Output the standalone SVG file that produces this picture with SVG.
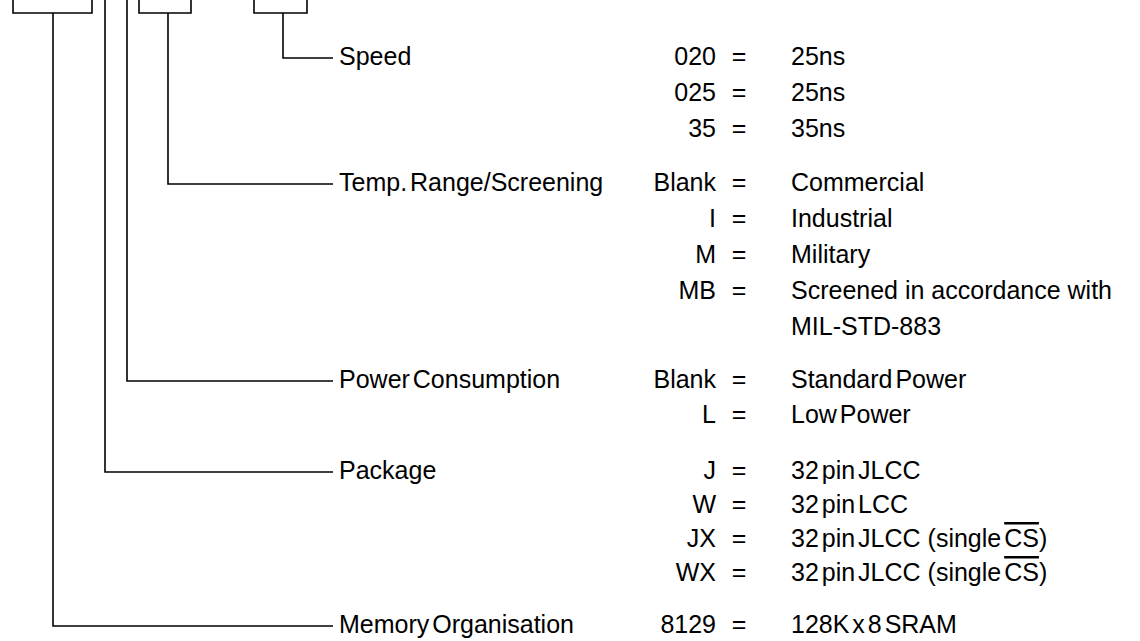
<svg xmlns="http://www.w3.org/2000/svg" width="1140" height="641" viewBox="0 0 1140 641">
<style>
text{font-family:"Liberation Sans",Arial,sans-serif;font-size:25px;fill:#000;word-spacing:-4px}
.c{text-anchor:end}
.e{text-anchor:middle}
.w{word-spacing:0px}
.ln{fill:none;stroke:#000;stroke-width:1.6}
</style>
<rect width="1140" height="641" fill="#fff"/>
<g id="connectors" class="ln">
<path d="M13,0 V13 H92 V0 M53,13 V626 H333"/>
<path d="M105,0 V472 H333"/>
<path d="M127,0 V381 H333"/>
<path d="M139,0 V13 H191 V0 M168,13 V184 H333"/>
<path d="M254,0 V13 H307 V0 M283,13 V58 H333"/>
</g>
<g id="speed">
<text x="339" y="65">Speed</text>
<text class="c" x="716" y="65">020</text><text class="e" x="739" y="65">=</text><text x="791" y="65">25ns</text>
<text class="c" x="716" y="101">025</text><text class="e" x="739" y="101">=</text><text x="791" y="101">25ns</text>
<text class="c" x="716" y="137">35</text><text class="e" x="739" y="137">=</text><text x="791" y="137">35ns</text>
</g>
<g id="temp">
<text x="339" y="191">Temp. Range/Screening</text>
<text class="c" x="716" y="191">Blank</text><text class="e" x="739" y="191">=</text><text x="791" y="191">Commercial</text>
<text class="c" x="716" y="227">I</text><text class="e" x="739" y="227">=</text><text x="791" y="227">Industrial</text>
<text class="c" x="716" y="263">M</text><text class="e" x="739" y="263">=</text><text x="791" y="263">Military</text>
<text class="c" x="716" y="299">MB</text><text class="e" x="739" y="299">=</text><text class="w" x="791" y="299">Screened in accordance with</text>
<text x="791" y="335">MIL-STD-883</text>
</g>
<g id="power">
<text x="339" y="388">Power Consumption</text>
<text class="c" x="716" y="388">Blank</text><text class="e" x="739" y="388">=</text><text x="791" y="388">Standard Power</text>
<text class="c" x="716" y="423">L</text><text class="e" x="739" y="423">=</text><text x="791" y="423">Low Power</text>
</g>
<g id="package">
<text x="339" y="479">Package</text>
<text class="c" x="716" y="479">J</text><text class="e" x="739" y="479">=</text><text x="791" y="479">32 pin JLCC</text>
<text class="c" x="716" y="513">W</text><text class="e" x="739" y="513">=</text><text x="791" y="513">32 pin LCC</text>
<text class="c" x="716" y="547">JX</text><text class="e" x="739" y="547">=</text><text x="791" y="547">32 pin JLCC<tspan dx="7">(single </tspan><tspan text-decoration="overline">CS</tspan>)</text>
<text class="c" x="716" y="581">WX</text><text class="e" x="739" y="581">=</text><text x="791" y="581">32 pin JLCC<tspan dx="7">(single </tspan><tspan text-decoration="overline">CS</tspan>)</text>
</g>
<g id="memory">
<text x="339" y="633">Memory Organisation</text>
<text class="c" x="716" y="633">8129</text><text class="e" x="739" y="633">=</text><text x="791" y="633">128K x 8 SRAM</text>
</g>
</svg>
